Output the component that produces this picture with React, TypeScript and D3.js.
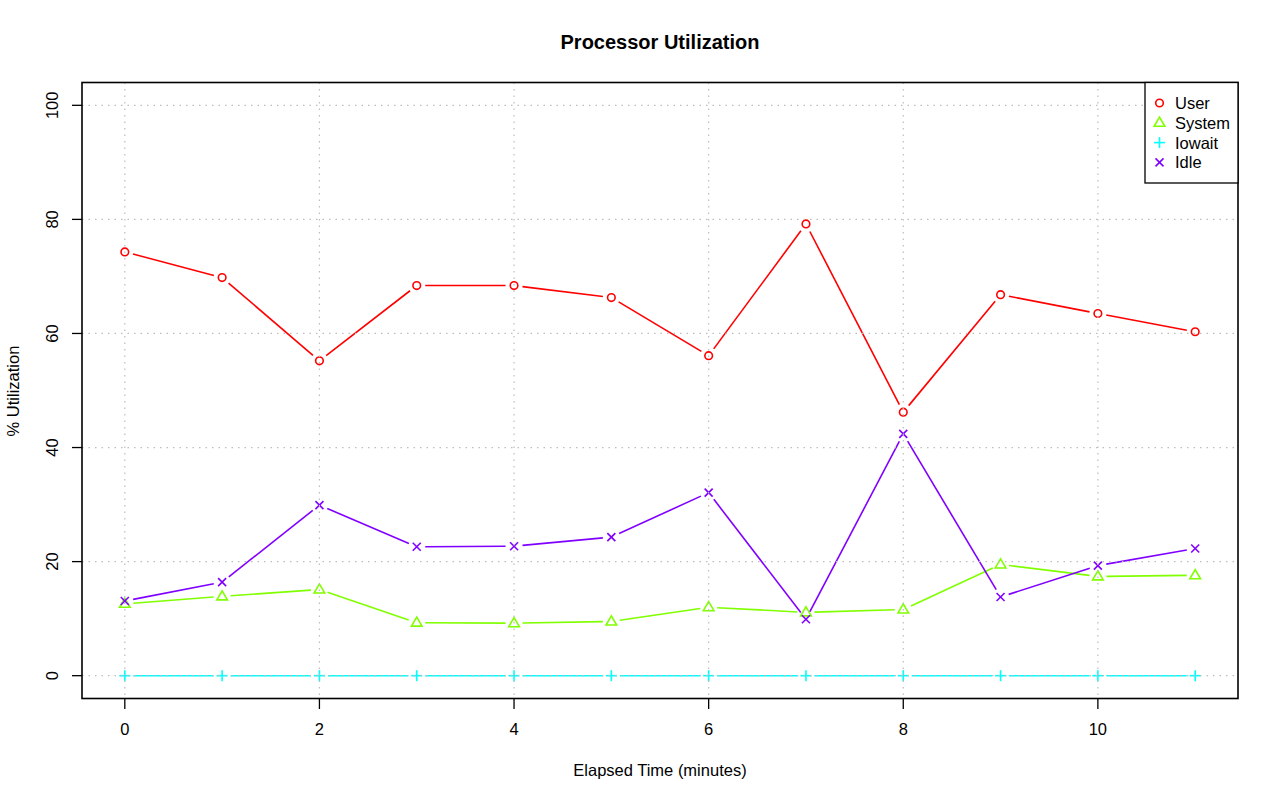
import React from "react";
import * as d3 from "d3";

const minutes = [0, 1, 2, 3, 4, 5, 6, 7, 8, 9, 10, 11];
const userVals = [74.3, 69.8, 55.2, 68.4, 68.4, 66.3, 56.1, 79.2, 46.2, 66.8, 63.5, 60.3];
const systemVals = [12.6, 13.9, 15.1, 9.3, 9.2, 9.5, 12.0, 11.1, 11.6, 19.5, 17.4, 17.6];
const iowaitVals = [0, 0, 0, 0, 0, 0, 0, 0, 0, 0, 0, 0];
const idleVals = [13.1, 16.4, 29.9, 22.6, 22.7, 24.3, 32.1, 9.9, 42.4, 13.8, 19.3, 22.3];
const xTicks = [0, 2, 4, 6, 8, 10];
const yTicks = [0, 20, 40, 60, 80, 100];
const seriesNames = ["User", "System", "Iowait", "Idle"];
const seriesColors = ["#FF0000", "#80FF00", "#00FFFF", "#8000FF"];
const seriesShapes = ["circle", "triangle", "plus", "cross"];

const FONT = "'Liberation Sans', Arial, Helvetica, sans-serif";
const FS = 16.5;

function Marker({ shape, x, y, color }: { shape: string; x: number; y: number; color: string }) {
  const sw = 1.6;
  if (shape === "circle") return <circle cx={x} cy={y} r={3.8} fill="none" stroke={color} strokeWidth={sw} />;
  if (shape === "triangle") {
    const s = 5.6;
    const pts = [[x, y - s], [x - s * 0.95, y + s * 0.62], [x + s * 0.95, y + s * 0.62]].map((p) => p.join(",")).join(" ");
    return <polygon points={pts} fill="none" stroke={color} strokeWidth={sw} />;
  }
  if (shape === "plus") {
    const s = 5.5;
    return (
      <g stroke={color} strokeWidth={sw}>
        <line x1={x - s} y1={y} x2={x + s} y2={y} />
        <line x1={x} y1={y - s} x2={x} y2={y + s} />
      </g>
    );
  }
  const s = 4;
  return (
    <g stroke={color} strokeWidth={sw}>
      <line x1={x - s} y1={y - s} x2={x + s} y2={y + s} />
      <line x1={x - s} y1={y + s} x2={x + s} y2={y - s} />
    </g>
  );
}

export default function App() {
  const left = 82, right = 1238, top = 82.5, bottom = 698.5;
  const x = d3.scaleLinear().domain([-0.44, 11.44]).range([left, right]);
  const y = d3.scaleLinear().domain([-4, 104]).range([bottom, top]);
  const series = [userVals, systemVals, iowaitVals, idleVals];
  const gap = 8.5;

  const segs = (vals: number[]) => {
    const out: { x1: number; y1: number; x2: number; y2: number }[] = [];
    for (let i = 0; i < vals.length - 1; i++) {
      const ax = x(minutes[i]), ay = y(vals[i]);
      const bx = x(minutes[i + 1]), by = y(vals[i + 1]);
      const dx = bx - ax, dy = by - ay;
      const len = Math.hypot(dx, dy);
      if (len <= 2 * gap) continue;
      const ux = dx / len, uy = dy / len;
      out.push({ x1: ax + ux * gap, y1: ay + uy * gap, x2: bx - ux * gap, y2: by - uy * gap });
    }
    return out;
  };

  return (
    <svg width={1280} height={801} style={{ position: "absolute", left: 0, top: 0, background: "#fff" }} fontFamily={FONT}>
      <rect x={0} y={0} width={1280} height={801} fill="#fff" />
      {series.map((vals, si) => (
        <g key={si}>
          {segs(vals).map((s, i) => (
            <line key={i} {...s} stroke={seriesColors[si]} strokeWidth={1.6} />
          ))}
          {vals.map((v, i) => (
            <Marker key={i} shape={seriesShapes[si]} x={x(minutes[i])} y={y(v)} color={seriesColors[si]} />
          ))}
        </g>
      ))}
      {/* grid */}
      <g stroke="#bdbdbd" strokeWidth={1.2} strokeDasharray="1.5 5">
        {xTicks.map((t) => (
          <line key={"gx" + t} x1={x(t)} x2={x(t)} y1={top} y2={bottom} />
        ))}
        {yTicks.map((t) => (
          <line key={"gy" + t} x1={left} x2={right} y1={y(t)} y2={y(t)} />
        ))}
      </g>
      {/* box */}
      <rect x={left} y={top} width={right - left} height={bottom - top} fill="none" stroke="#000" strokeWidth={1.6} />
      {/* y axis */}
      {yTicks.map((t) => (
        <g key={"yt" + t}>
          <line x1={left - 10} x2={left} y1={y(t)} y2={y(t)} stroke="#000" strokeWidth={1.3} />
          <text transform={`translate(${58},${y(t)}) rotate(-90)`} textAnchor="middle" fontSize={FS} fill="#000">
            {t}
          </text>
        </g>
      ))}
      {/* x axis */}
      {xTicks.map((t) => (
        <g key={"xt" + t}>
          <line x1={x(t)} x2={x(t)} y1={bottom} y2={bottom + 10.5} stroke="#000" strokeWidth={1.3} />
          <text x={x(t)} y={735} textAnchor="middle" fontSize={FS} fill="#000">
            {t}
          </text>
        </g>
      ))}
      <text x={660} y={49} textAnchor="middle" fontSize={20} fontWeight="bold" fill="#000">
        Processor Utilization
      </text>
      <text x={660} y={776} textAnchor="middle" fontSize={FS} fill="#000">
        Elapsed Time (minutes)
      </text>
      <text transform={`translate(19,391) rotate(-90)`} textAnchor="middle" fontSize={FS} fill="#000">
        % Utilization
      </text>
      {/* legend */}
      <rect x={1145} y={top} width={right - 1145} height={183 - top} fill="#fff" stroke="#000" strokeWidth={1.3} />
      {seriesNames.map((n, i) => {
        const ly = 103 + i * 19.8;
        return (
          <g key={n}>
            <Marker shape={seriesShapes[i]} x={1159.5} y={ly} color={seriesColors[i]} />
            <text x={1175} y={ly + 6} fontSize={FS} fill="#000">
              {n}
            </text>
          </g>
        );
      })}
    </svg>
  );
}
